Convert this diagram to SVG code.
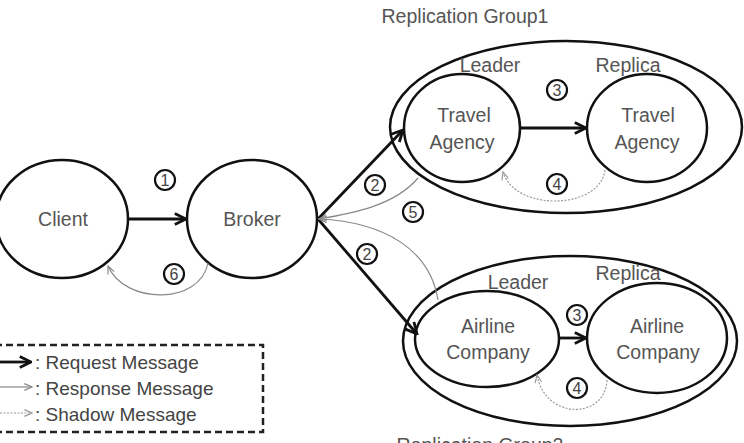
<svg xmlns="http://www.w3.org/2000/svg" width="744" height="443" viewBox="0 0 744 443">
<style>
.node{fill:#fff;stroke:#111;stroke-width:2.5}
.grp{fill:none;stroke:#111;stroke-width:2.5}
.t{font-family:"Liberation Sans",Arial,sans-serif;font-size:19.5px;fill:#555;text-anchor:middle}
.lt{font-family:"Liberation Sans",Arial,sans-serif;font-size:19px;fill:#444}
.num circle{fill:#fff;stroke:#111;stroke-width:2.2}
.num text{font-family:"Liberation Sans",Arial,sans-serif;font-size:16px;fill:#444;text-anchor:middle}
.req{fill:none;stroke:#111;stroke-width:2.8}
.resp{fill:none;stroke:#888;stroke-width:1.2}
.shad{fill:none;stroke:#999;stroke-width:1.2;stroke-dasharray:2 1.5}
</style>
<defs>
<marker id="mReq" viewBox="0 0 10 10" refX="9" refY="5" markerWidth="5" markerHeight="5" orient="auto" markerUnits="strokeWidth">
<path d="M1,1 L9,5 L1,9" fill="none" stroke="#111" stroke-width="2"/>
</marker>
<marker id="mResp" viewBox="0 0 10 10" refX="9" refY="5" markerWidth="8" markerHeight="8" orient="auto" markerUnits="strokeWidth">
<path d="M1,1.5 L9,5 L1,8.5" fill="none" stroke="#888" stroke-width="1.2"/>
</marker>
<marker id="mShad" viewBox="0 0 10 10" refX="9" refY="5" markerWidth="8" markerHeight="8" orient="auto" markerUnits="strokeWidth">
<path d="M1,1.5 L9,5 L1,8.5" fill="none" stroke="#999" stroke-width="1.2"/>
</marker>
</defs>

<rect width="744" height="443" fill="#fff"/>

<g id="group1">
<ellipse class="grp" cx="566" cy="127" rx="176" ry="86"/>
<text class="t" x="465" y="23">Replication Group1</text>
</g>
<g id="group2">
<ellipse class="grp" cx="570" cy="341" rx="167" ry="85"/>
<text class="t" x="480" y="452">Replication Group2</text>
</g>

<g id="client">
<ellipse class="node" cx="62" cy="219" rx="66" ry="59"/>
<text class="t" x="63" y="226">Client</text>
</g>
<g id="broker">
<ellipse class="node" cx="252" cy="219" rx="65" ry="59"/>
<text class="t" x="252" y="226">Broker</text>
</g>
<g id="ta-leader">
<ellipse class="node" cx="462" cy="128" rx="58" ry="54"/>
<text class="t" x="490" y="72">Leader</text>
<text class="t" x="464" y="122">Travel</text>
<text class="t" x="462" y="149">Agency</text>
</g>
<g id="ta-replica">
<ellipse class="node" cx="647" cy="128" rx="60" ry="54"/>
<text class="t" x="628" y="72">Replica</text>
<text class="t" x="648" y="122">Travel</text>
<text class="t" x="647" y="149">Agency</text>
</g>
<g id="ac-leader">
<ellipse class="node" cx="487" cy="339" rx="72" ry="48"/>
<text class="t" x="518" y="289">Leader</text>
<text class="t" x="488" y="333">Airline</text>
<text class="t" x="488" y="359">Company</text>
</g>
<g id="ac-replica">
<ellipse class="node" cx="657" cy="338" rx="70" ry="55"/>
<text class="t" x="628" y="280">Replica</text>
<text class="t" x="657" y="333">Airline</text>
<text class="t" x="658" y="359">Company</text>
</g>

<g id="connectors">
<line class="req" x1="128" y1="219" x2="186" y2="219" marker-end="url(#mReq)"/>
<path class="resp" d="M208,263 C200,305 125,305 108,266" marker-end="url(#mResp)"/>
<line class="req" x1="318" y1="219" x2="403" y2="130" marker-end="url(#mReq)"/>
<line class="req" x1="318" y1="219" x2="417" y2="334" marker-end="url(#mReq)"/>
<path class="resp" d="M418,178 C395,205 355,213 319,219" marker-end="url(#mResp)"/>
<path class="resp" d="M438,300 C430,250 385,222 319,219" marker-end="url(#mResp)"/>
<line class="req" x1="520" y1="128" x2="586" y2="128" marker-end="url(#mReq)"/>
<line class="req" x1="560" y1="338" x2="586" y2="338" marker-end="url(#mReq)"/>
<path class="shad" d="M605,170 C600,210 515,212 503,172" marker-end="url(#mShad)"/>
<path class="shad" d="M607,380 C605,420 545,420 537,375" marker-end="url(#mShad)"/>
</g>

<g id="labels">
<g class="num"><circle cx="165" cy="180" r="10"/><text x="165" y="186">1</text></g>
<g class="num"><circle cx="174" cy="274" r="10"/><text x="174" y="280">6</text></g>
<g class="num"><circle cx="375" cy="185" r="10"/><text x="375" y="191">2</text></g>
<g class="num"><circle cx="413" cy="212" r="10"/><text x="413" y="218">5</text></g>
<g class="num"><circle cx="367" cy="254" r="10"/><text x="367" y="260">2</text></g>
<g class="num"><circle cx="557" cy="90" r="10"/><text x="557" y="96">3</text></g>
<g class="num"><circle cx="557" cy="184" r="10"/><text x="557" y="190">4</text></g>
<g class="num"><circle cx="577" cy="315" r="10"/><text x="577" y="321">3</text></g>
<g class="num"><circle cx="577" cy="388" r="10"/><text x="577" y="394">4</text></g>
</g>

<g id="legend">
<rect x="-5" y="345" width="268" height="87" fill="none" stroke="#222" stroke-width="2.5" stroke-dasharray="7 4"/>
<line class="req" x1="0" y1="362" x2="31" y2="362" marker-end="url(#mReq)"/>
<line class="resp" x1="0" y1="387" x2="32" y2="387" marker-end="url(#mResp)"/>
<line class="shad" x1="0" y1="413" x2="32" y2="413" marker-end="url(#mShad)"/>
<text class="lt" x="35" y="369">: Request Message</text>
<text class="lt" x="35" y="395">: Response Message</text>
<text class="lt" x="35" y="421">: Shadow Message</text>
</g>
</svg>
